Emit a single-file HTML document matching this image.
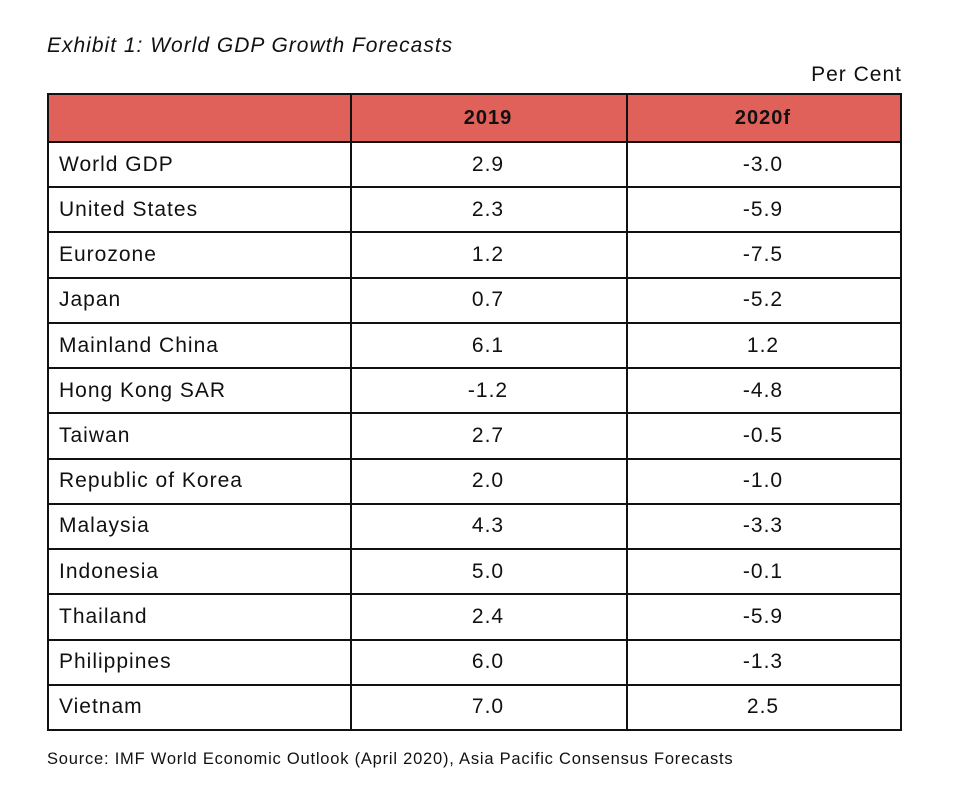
<!DOCTYPE html>
<html><head><meta charset="utf-8"><style>
body{margin:0;width:964px;height:788px;background:#fff;font-family:"Liberation Sans",sans-serif;color:#111;position:relative;overflow:hidden;letter-spacing:1px}
.t{position:absolute;white-space:nowrap}
#tbl{position:absolute;left:47px;top:93px;width:855px;height:638px;border:2px solid #111;box-sizing:border-box}
.row{position:absolute;left:0;width:851px;border-top:2px solid #111;box-sizing:border-box}
.cell{position:absolute;top:0;height:100%;display:flex;align-items:center;font-size:21px;box-sizing:border-box}
.vl{position:absolute;top:0;bottom:0;width:2px;background:#111}
</style></head><body>
<div class="t" style="left:47px;top:34px;font-size:21px;font-style:italic">Exhibit 1: World GDP Growth Forecasts</div>
<div class="t" style="right:62px;top:63px;font-size:21px">Per Cent</div>
<div id="tbl">
  <div style="position:absolute;left:0;top:0;width:851px;height:46px;background:#e0605a">
    <div class="cell" style="left:301px;width:276px;justify-content:center;font-weight:bold;font-size:20px">2019</div>
    <div class="cell" style="left:577px;width:274px;justify-content:center;font-weight:bold;font-size:20px">2020f</div>
  </div>
  <div id="rows"></div>
  <div class="vl" style="left:301px"></div>
  <div class="vl" style="left:577px"></div>
</div>
<div class="t" style="left:47px;top:750px;font-size:16.5px;letter-spacing:0.78px">Source: IMF World Economic Outlook (April 2020), Asia Pacific Consensus Forecasts</div>
<script>
const countries=["World GDP","United States","Eurozone","Japan","Mainland China","Hong Kong SAR","Taiwan","Republic of Korea","Malaysia","Indonesia","Thailand","Philippines","Vietnam"];
const values2019=["2.9","2.3","1.2","0.7","6.1","-1.2","2.7","2.0","4.3","5.0","2.4","6.0","7.0"];
const values2020=["-3.0","-5.9","-7.5","-5.2","1.2","-4.8","-0.5","-1.0","-3.3","-0.1","-5.9","-1.3","2.5"];
const rows=document.getElementById('rows');
const rh=(634-46)/countries.length;
countries.forEach((c,i)=>{
  const r=document.createElement('div');
  r.className='row';
  
  
  r.style.top=(46+i*rh)+'px';r.style.height=rh+'px';
  const a=document.createElement('div');a.className='cell';a.style.left='10px';a.textContent=c;
  
  
  const b=document.createElement('div');b.className='cell';b.style.left='301px';b.style.width='276px';b.style.justifyContent='center';b.textContent=values2019[i];
  
  
  const d=document.createElement('div');d.className='cell';d.style.left='577px';d.style.width='274px';d.style.justifyContent='center';d.textContent=values2020[i];
  
  
  r.append(a,b,d);rows.appendChild(r);
});
</script>
</body></html>
